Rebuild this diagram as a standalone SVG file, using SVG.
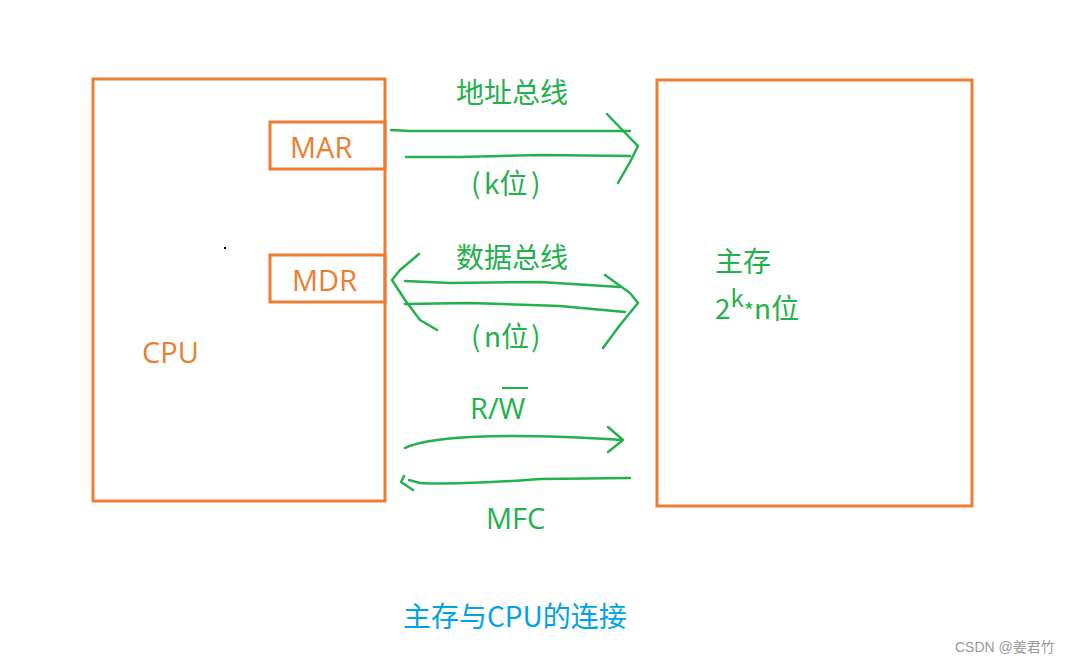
<svg xmlns="http://www.w3.org/2000/svg" width="1069" height="664" viewBox="0 0 1069 664">
<style>
.box{fill:none;stroke:#ED7D31;stroke-width:3}
.ot{fill:#ED7D31;font-family:"Open Sans","Noto Sans CJK SC",sans-serif;font-size:29px}
.gt{fill:#22B14C;font-family:"Noto Sans CJK SC","Open Sans",sans-serif;font-size:28px}
.gl{fill:#22B14C;font-family:"Open Sans","Noto Sans CJK SC",sans-serif;font-size:29px}
.ln{fill:none;stroke:#22B14C;stroke-width:2.5;stroke-linecap:round;stroke-linejoin:round}
</style>
<rect width="1069" height="664" fill="#fff"/>
<g id="cpu">
<rect class="box" x="93" y="79" width="292" height="422"/>
<text class="ot" x="142" y="363">CPU</text>
<rect x="224" y="247" width="2" height="2" fill="#000"/>
</g>
<g id="mar">
<rect class="box" x="270" y="122" width="115" height="47"/>
<text class="ot" x="290" y="158">MAR</text>
</g>
<g id="mdr">
<rect class="box" x="270" y="255" width="115" height="47"/>
<text class="ot" x="292" y="291">MDR</text>
</g>
<g id="mem">
<rect class="box" x="657" y="80" width="315" height="426"/>
<text class="gt" x="715" y="272">主存</text>
<text class="gt" x="715" y="319">2<tspan dy="-12" font-size="24">k</tspan><tspan dy="12" font-size="22">*</tspan><tspan>n位</tspan></text>
</g>
<g id="connectors">
<path class="ln" d="M391,130 L410,131 L470,131 L630,131"/>
<path class="ln" d="M406,157 L460,157 L540,155 L630,156"/>
<path class="ln" d="M607,114 L632,140 L638,146 L630,162 L618,183"/>
<path class="ln" d="M405,281 L450,283 L540,282 L620,287"/>
<path class="ln" d="M405,304 L470,303 L560,306 L625,312"/>
<path class="ln" d="M419,254 L400,270 L392,280 L405,300 L420,320 L437,330"/>
<path class="ln" d="M605,275 L630,293 L638,303 L620,325 L603,348"/>
<path class="ln" d="M405,448 Q420,440 470,437 Q530,434 622,440"/>
<path class="ln" d="M608,427 L623,440 L608,452"/>
<path class="ln" d="M630,478 L540,479 Q460,485 420,483 L409,480"/>
<path class="ln" d="M404,476 L401,482 L413,490"/>
<line x1="502" y1="388" x2="528" y2="388" stroke="#22B14C" stroke-width="2"/>
</g>
<g id="labels">
<text class="gt" x="512" y="103" text-anchor="middle">地址总线</text>
<text class="gt" y="194"><tspan x="471">(</tspan><tspan x="484">k位</tspan><tspan x="531">)</tspan></text>
<text class="gt" x="512" y="268" text-anchor="middle">数据总线</text>
<text class="gt" y="347"><tspan x="471">(</tspan><tspan x="484">n位</tspan><tspan x="531">)</tspan></text>
<text class="gl" x="470" y="419">R/W</text>
<text class="gl" x="486" y="529">MFC</text>
<text x="403" y="627" style="fill:#00A2E8;font-family:'Noto Sans CJK SC','Open Sans',sans-serif;font-size:28px">主存与CPU的连接</text>
<text x="955" y="652" style="fill:#999;font-family:'Liberation Sans','Noto Sans CJK SC',sans-serif;font-size:14px">CSDN @姜君竹</text>
</g>
</svg>
